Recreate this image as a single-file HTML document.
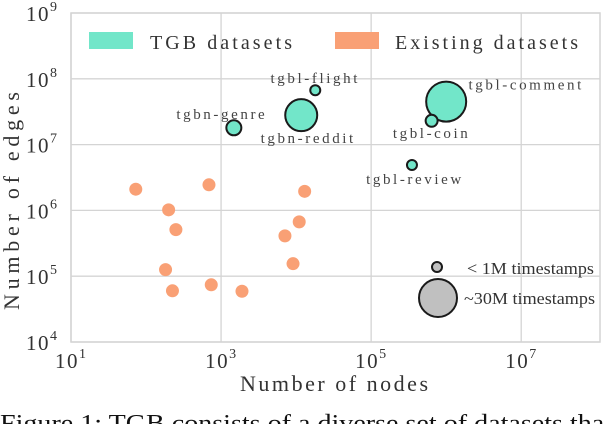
<!DOCTYPE html>
<html><head><meta charset="utf-8">
<style>
html,body{margin:0;padding:0;background:#fff;}
svg{display:block;font-family:"Liberation Serif",serif;}
</style></head>
<body>
<svg id="chart" width="604" height="424" viewBox="0 0 604 424" xmlns="http://www.w3.org/2000/svg"></svg>
<script>
const xTicks=[1,3,5,7];
const yTicks=[4,5,6,7,8,9];
const tgbNames=["tgbn-genre","tgbn-reddit","tgbl-flight","tgbl-comment","tgbl-coin","tgbl-review"];
const tgbNodes=[1480,11700,18000,1000000,640000,350000];
const tgbEdges=[1.8e7,2.8e7,6.7e7,4.5e7,2.3e7,4.9e6];
const tgbRadius=[7.5,16,5,20,6,5];
const existNodes=[73,690,13000,200,250,11000,7100,182,9100,225,740,1900];
const existEdges=[2.1e6,2.45e6,1.95e6,1.02e6,5.1e5,6.7e5,4.1e5,1.26e5,1.55e5,6.0e4,7.4e4,5.9e4];

const svg=document.getElementById('chart');
const NS="http://www.w3.org/2000/svg";
const L=71,R=600,T=13,B=342;
const xMin=1,xMax=8.05,yMin=4,yMax=9;
function xs(v){return L+(Math.log10(v)-xMin)/(xMax-xMin)*(R-L);}
function ys(v){return B-(Math.log10(v)-yMin)/(yMax-yMin)*(B-T);}
function xe(e){return L+(e-xMin)/(xMax-xMin)*(R-L);}
function ye(e){return B-(e-yMin)/(yMax-yMin)*(B-T);}
function mk(tag,attrs,parent){const el=document.createElementNS(NS,tag);for(const k in attrs)el.setAttribute(k,attrs[k]);(parent||svg).appendChild(el);return el;}

const bg=mk('rect',{x:L,y:T,width:R-L,height:B-T,fill:'#fff',stroke:'#d4d4d4','stroke-width':1.5});


xTicks.forEach(e=>{
  const g=mk('line',{x1:xe(e),x2:xe(e),y1:T,y2:B,stroke:'#d4d4d4','stroke-width':1.3});
  
  
  const t=mk('text',{x:xe(e)-16,y:B+26,'font-size':21,fill:'#333','letter-spacing':'1.5'});
  
  
  t.innerHTML='10<tspan dy="-10" font-size="14">'+e+'</tspan>';
});
yTicks.forEach(e=>{
  const g=mk('line',{x1:L,x2:R,y1:ye(e),y2:ye(e),stroke:'#d4d4d4','stroke-width':1.3});
  
  
  const t=mk('text',{x:L-45,y:ye(e)+8,'font-size':21,fill:'#333','letter-spacing':'1.5'});
  
  
  t.innerHTML='10<tspan dy="-10" font-size="14">'+e+'</tspan>';
});
existNodes.forEach((n,i)=>{
  const c=mk('circle',{cx:xs(n),cy:ys(existEdges[i]),r:6.5,fill:'#f9a075'});
  
  
});
tgbNodes.forEach((n,i)=>{
  const c=mk('circle',{cx:xs(n),cy:ys(tgbEdges[i]),r:tgbRadius[i],fill:'#72e6c9',stroke:'#1a1a1a','stroke-width':2});
  
  
});
const labelDx=[-12,7,0,80,0,3];
const labelDy=[-9,28,-7,-12,17,19];
tgbNames.forEach((nm,i)=>{
  const t=mk('text',{x:xs(tgbNodes[i])+labelDx[i],y:ys(tgbEdges[i])+labelDy[i],'font-size':15,fill:'#444','text-anchor':'middle','letter-spacing':'2.6'});
  t.textContent=nm;
  
  
});
const lg=mk('g',{});


let r1=mk('rect',{x:89,y:32,width:44,height:17,fill:'#72e6c9'},lg);


let t1=mk('text',{x:150,y:49,'font-size':20,fill:'#333',textLength:142,lengthAdjust:'spacing'},lg);
t1.textContent='TGB datasets';


let r2=mk('rect',{x:335,y:32,width:44,height:17,fill:'#f9a075'},lg);


let t2=mk('text',{x:395,y:49,'font-size':20,fill:'#333',textLength:183,lengthAdjust:'spacing'},lg);
t2.textContent='Existing datasets';


let s1=mk('circle',{cx:437,cy:267,r:5,fill:'#c0c0c0',stroke:'#1a1a1a','stroke-width':2});


let st1=mk('text',{x:467,y:274,'font-size':17,fill:'#333',textLength:127,lengthAdjust:'spacingAndGlyphs'});
st1.textContent='< 1M timestamps';


let s2=mk('circle',{cx:438,cy:298,r:19,fill:'#c0c0c0',stroke:'#1a1a1a','stroke-width':2});


let st2=mk('text',{x:464,y:304,'font-size':17,fill:'#333',textLength:131,lengthAdjust:'spacingAndGlyphs'});
st2.textContent='~30M timestamps';


let xt=mk('text',{x:240,y:391,'font-size':22,fill:'#333',textLength:188,lengthAdjust:'spacing'});
xt.textContent='Number of nodes';


let yt=mk('text',{x:-310,y:0,'font-size':22,fill:'#333',textLength:218,lengthAdjust:'spacing',transform:'translate(19,0) rotate(-90)'});
yt.textContent='Number of edges';


let cap=mk('text',{x:0,y:431,'font-size':24,fill:'#111',textLength:612,lengthAdjust:'spacingAndGlyphs'});
cap.textContent='Figure 1: TGB consists of a diverse set of datasets that';


</script>
</body></html>
